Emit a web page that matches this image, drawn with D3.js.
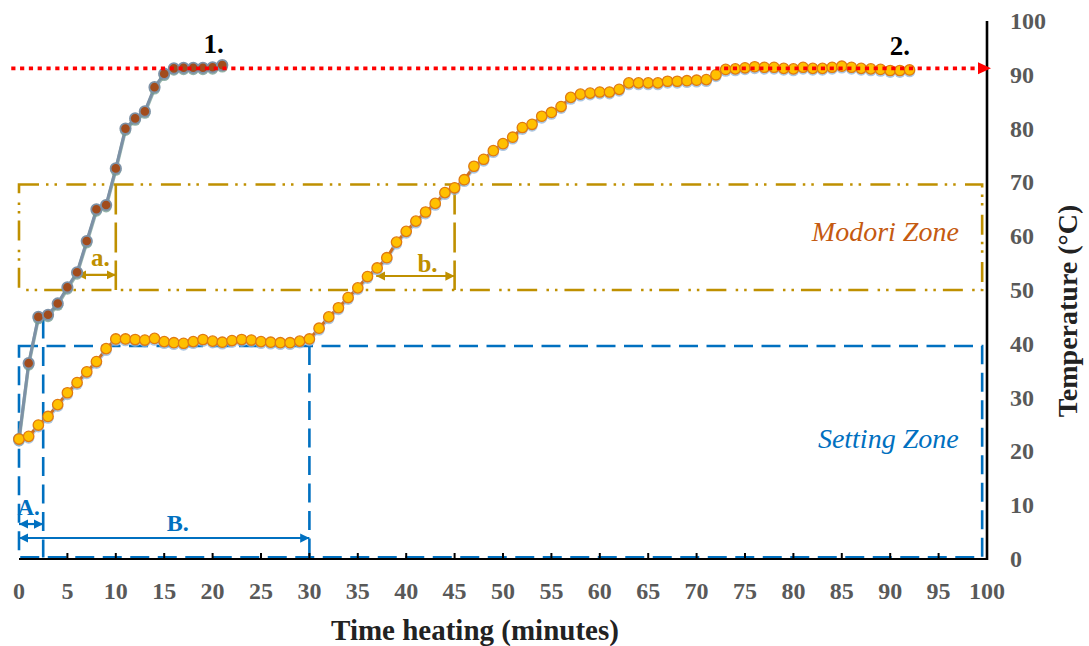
<!DOCTYPE html>
<html>
<head>
<meta charset="utf-8">
<script src="https://cdn.jsdelivr.net/npm/d3@7"></script>
<style>
  html, body { margin: 0; padding: 0; background: #fff; }
  svg { display: block; }
  text { font-family: "Liberation Serif", "Times New Roman", serif; }
</style>
</head>
<body>
<svg id="chart" width="1089" height="646"></svg>
<script>
// ---------------- data ----------------
const xTicks = [0,5,10,15,20,25,30,35,40,45,50,55,60,65,70,75,80,85,90,95,100];
const yTicks = [0,10,20,30,40,50,60,70,80,90,100];

// Series 1 (direct heating) : minutes 0..21
const time1 = d3.range(0, 22);
const temp1 = [22.3, 36.4, 45.0, 45.4, 47.5, 50.5, 53.3, 59.1, 65.0, 65.8, 72.6,
               80.0, 81.9, 83.2, 87.7, 90.2, 91.2, 91.3, 91.3, 91.3, 91.4, 91.8];

// Series 2 (two-step heating) : minutes 0..92
const time2 = d3.range(0, 93);
const temp2 = [22.3, 22.8, 24.9, 26.5, 28.7, 30.9, 32.8, 34.8, 36.7, 39.1,
               40.9, 40.9, 40.8, 40.7, 41.0, 40.4, 40.2, 40.1, 40.4, 40.8,
               40.5, 40.3, 40.6, 40.8, 40.7, 40.4, 40.3, 40.2, 40.2, 40.5,
               40.9, 42.9, 45.0, 46.7, 48.6, 50.4, 52.5, 54.1, 56.0, 58.9,
               60.9, 62.8, 64.5, 66.1, 68.1, 69.0, 70.5, 73.0, 74.3, 75.9,
               77.2, 78.4, 80.2, 80.8, 82.3, 83.0, 84.1, 85.8, 86.4, 86.6,
               86.8, 86.8, 87.3, 88.5, 88.5, 88.5, 88.5, 88.8, 88.8, 88.9,
               89.0, 89.1, 90.0, 91.0, 91.1, 91.3, 91.5, 91.4, 91.4, 91.2,
               91.1, 91.4, 91.2, 91.2, 91.4, 91.6, 91.4, 91.2, 91.1, 91.0,
               90.8, 90.8, 90.9];

// zones (minutes / °C)
const settingZone = { t0: 0, t1: 99.5, T0: 0.3, T1: 39.6 };
const modoriZone  = { t0: 0, t1: 99.5, T0: 50, T1: 69.6 };
const targetTemp = 91.2;
const targetSpan = [-0.8, 100];

// ---------------- layout ----------------
const svg = d3.select("#chart");
const x = d3.scaleLinear().domain([0, 100]).range([19, 987]);
const y = d3.scaleLinear().domain([0, 100]).range([559, 21]);
const FONT = '"Liberation Serif", "Times New Roman", serif';

const gold = "#BF9000";
const blue = "#0070C0";

// arrow markers
const defs = svg.append("defs");
function arrowMarker(id, color, orient) {
  defs.append("marker")
    .attr("id", id).attr("viewBox", "0 0 10 10")
    .attr("refX", 10).attr("refY", 5)
    .attr("markerWidth", 4.2).attr("markerHeight", 4.2)
    .attr("markerUnits", "strokeWidth")
    .attr("orient", orient)
    .append("path").attr("d", "M0,0 L10,5 L0,10 z").attr("fill", color);
}
arrowMarker("arrBlue", blue, "auto-start-reverse");
arrowMarker("arrGold", gold, "auto-start-reverse");

// ---------------- zones ----------------
const zoneG = svg.append("g");
const dashDotDot = "20,7,2.5,6,2.5,9.3";
const dashBlue = "19,8.5";

// Modori zone rectangle (dash-dot-dot)
zoneG.append("rect")
  .attr("x", x(modoriZone.t0)).attr("y", y(modoriZone.T1))
  .attr("width", x(modoriZone.t1) - x(modoriZone.t0))
  .attr("height", y(modoriZone.T0) - y(modoriZone.T1))
  .attr("fill", "none").attr("stroke", gold).attr("stroke-width", 2.6)
  .attr("stroke-dasharray", dashDotDot);

// Setting zone rectangle (dashed)
zoneG.append("rect")
  .attr("x", x(settingZone.t0)).attr("y", y(settingZone.T1))
  .attr("width", x(settingZone.t1) - x(settingZone.t0))
  .attr("height", y(settingZone.T0) - y(settingZone.T1))
  .attr("fill", "none").attr("stroke", blue).attr("stroke-width", 2.6)
  .attr("stroke-dasharray", dashBlue);

// inner vertical markers
const vLines = [
  { t: 2.5, T0: 0.3, T1: 44.5, color: blue, dash: dashBlue },
  { t: 30,  T0: 0.3, T1: 39.6, color: blue, dash: dashBlue },
  { t: 10,  T0: 50,  T1: 69.6, color: gold, dash: "30,8" },
  { t: 45,  T0: 50,  T1: 69.6, color: gold, dash: "30,8" }
];
zoneG.selectAll("line.v").data(vLines).join("line")
  .attr("x1", d => x(d.t)).attr("x2", d => x(d.t))
  .attr("y1", d => y(d.T1)).attr("y2", d => y(d.T0))
  .attr("stroke", d => d.color).attr("stroke-width", 2.6)
  .attr("stroke-dasharray", d => d.dash);

// double arrows
const arrows = [
  { t0: 0, t1: 2.5, T: 6.5, color: blue, m: "arrBlue" },
  { t0: 0, t1: 30,  T: 3.9, color: blue, m: "arrBlue" },
  { t0: 6.0, t1: 10, T: 52.8, color: gold, m: "arrGold" },
  { t0: 36.9, t1: 45, T: 52.6, color: gold, m: "arrGold" }
];
zoneG.selectAll("line.a").data(arrows).join("line")
  .attr("x1", d => x(d.t0)).attr("x2", d => x(d.t1))
  .attr("y1", d => y(d.T)).attr("y2", d => y(d.T))
  .attr("stroke", d => d.color).attr("stroke-width", 2.2)
  .attr("marker-start", d => `url(#${d.m})`)
  .attr("marker-end", d => `url(#${d.m})`);

// ---------------- axes ----------------
// bottom axis line + inner ticks
svg.append("line")
  .attr("x1", x(0)).attr("x2", x(100)).attr("y1", y(0)).attr("y2", y(0))
  .attr("stroke", "#000").attr("stroke-width", 2.2);
svg.selectAll("line.xt").data(xTicks.filter(v => v > 0 && v < 100)).join("line")
  .attr("x1", d => x(d)).attr("x2", d => x(d))
  .attr("y1", y(0)).attr("y2", y(0) - 6)
  .attr("stroke", "#000").attr("stroke-width", 2);
svg.selectAll("text.xt").data(xTicks).join("text")
  .attr("x", d => x(d)).attr("y", 591)
  .attr("text-anchor", "middle").attr("dominant-baseline", "central")
  .attr("font-family", FONT).attr("font-weight", "bold").attr("font-size", 24)
  .attr("fill", "#595959").text(d => d);

// right axis line
svg.append("line")
  .attr("x1", x(100)).attr("x2", x(100)).attr("y1", y(100)).attr("y2", y(0) + 1)
  .attr("stroke", "#000").attr("stroke-width", 2.6);
svg.selectAll("text.yt").data(yTicks).join("text")
  .attr("x", 1010).attr("y", d => y(d))
  .attr("text-anchor", "start").attr("dominant-baseline", "central")
  .attr("font-family", FONT).attr("font-weight", "bold").attr("font-size", 24)
  .attr("fill", "#595959").text(d => d);

// axis titles
svg.append("text")
  .attr("x", 475).attr("y", 630)
  .attr("text-anchor", "middle").attr("dominant-baseline", "central")
  .attr("font-family", FONT).attr("font-weight", "bold").attr("font-size", 29)
  .attr("fill", "#222").text("Time heating (minutes)");
svg.append("text")
  .attr("transform", "translate(1067,311) rotate(-90)")
  .attr("text-anchor", "middle").attr("dominant-baseline", "central")
  .attr("font-family", FONT).attr("font-weight", "bold").attr("font-size", 28)
  .attr("fill", "#222").text("Temperature (°C)");

// ---------------- series ----------------
const s1 = time1.map((t, i) => ({ t, T: temp1[i] }));
const s2 = time2.map((t, i) => ({ t, T: temp2[i] }));
const line = d3.line().x(d => x(d.t)).y(d => y(d.T));

function drawSeries(data, lineColor, shadowColor, fill, ring, ringW) {
  const g = svg.append("g");
  g.append("path").datum(data).attr("d", line)
    .attr("transform", "translate(0,1.6)")
    .attr("fill", "none").attr("stroke", shadowColor).attr("stroke-width", 3.4)
    .attr("opacity", 0.7);
  g.append("path").datum(data).attr("d", line)
    .attr("fill", "none").attr("stroke", lineColor).attr("stroke-width", 3);
  g.selectAll("circle.sh").data(data).join("circle")
    .attr("cx", d => x(d.t)).attr("cy", d => y(d.T) + 1.8).attr("r", 5.6)
    .attr("fill", shadowColor).attr("opacity", 0.75);
  g.selectAll("circle.m").data(data).join("circle")
    .attr("cx", d => x(d.t)).attr("cy", d => y(d.T)).attr("r", 5.2)
    .attr("fill", fill).attr("stroke", ring).attr("stroke-width", ringW);
}
drawSeries(s1, "#7D91A6", "#6F9A8C", "#A24C1C", "#7D91A6", 1.8);
drawSeries(s2, "#CC6E24", "#8FB3D9", "#FFC000", "#E07A10", 1.3);

// ---------------- target line ----------------
svg.append("line")
  .attr("x1", x(targetSpan[0])).attr("x2", x(targetSpan[1]) - 8)
  .attr("y1", y(targetTemp)).attr("y2", y(targetTemp))
  .attr("stroke", "#FF0000").attr("stroke-width", 3.6)
  .attr("stroke-dasharray", "4.2,4.6");
svg.append("path")
  .attr("d", `M${x(targetSpan[1]) - 9},${y(targetTemp) - 6} L${x(targetSpan[1]) + 4},${y(targetTemp)} L${x(targetSpan[1]) - 9},${y(targetTemp) + 6} z`)
  .attr("fill", "#FF0000");

// ---------------- labels ----------------
const labels = [
  { t: 20.1, T: 95.7, text: "1.", color: "#000", size: 27, italic: false, bold: true },
  { t: 91.0, T: 95.3, text: "2.", color: "#000", size: 27, italic: false, bold: true },
  { t: 1.0,  T: 9.6,  text: "A.", color: blue, size: 23, italic: false, bold: true },
  { t: 16.4, T: 6.6,  text: "B.", color: blue, size: 24, italic: false, bold: true },
  { t: 8.4,  T: 56.0, text: "a.", color: gold, size: 25, italic: false, bold: true },
  { t: 42.2, T: 55.0, text: "b.", color: gold, size: 25, italic: false, bold: true },
  { t: 89.5, T: 60.8, text: "Modori Zone", color: "#C55A11", size: 28, italic: true, bold: false },
  { t: 89.8, T: 22.4, text: "Setting Zone", color: blue, size: 28, italic: true, bold: false }
];
svg.selectAll("text.lab").data(labels).join("text")
  .attr("x", d => x(d.t)).attr("y", d => y(d.T))
  .attr("text-anchor", "middle").attr("dominant-baseline", "central")
  .attr("font-family", FONT)
  .attr("font-weight", d => d.bold ? "bold" : "normal")
  .attr("font-style", d => d.italic ? "italic" : "normal")
  .attr("font-size", d => d.size)
  .attr("fill", d => d.color).text(d => d.text);
</script>
</body>
</html>
